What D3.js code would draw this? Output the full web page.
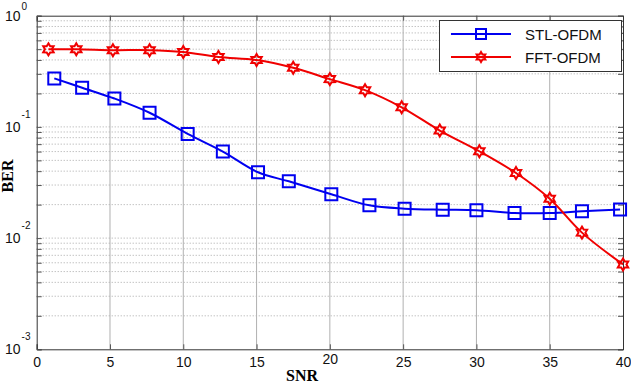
<!DOCTYPE html>
<html>
  <head>
    <meta charset="UTF-8" />
    <script src="https://d3js.org/d3.v7.min.js"></script>
    <style>
      body { margin: 0; background: #fff; }
      text { font-family: "Liberation Sans", Arial, sans-serif; }
    </style>
  </head>
  <body>
    <div id="my_dataviz"></div>
    <script>
      // values
      var stlSnr = [1.2, 3.1, 5.3, 7.7, 10.3, 12.7, 15.1, 17.2, 20.1, 22.7, 25.1, 27.7, 30.0, 32.6, 35.0, 37.2, 39.8];
      var stlBer = [0.273, 0.225, 0.18, 0.134, 0.0865, 0.06, 0.0391, 0.0324, 0.0248, 0.0197, 0.0184, 0.018, 0.0178, 0.0168, 0.0168, 0.0174, 0.0181];
      var fftSnr = [0.8, 2.7, 5.2, 7.7, 10.0, 12.4, 15.0, 17.5, 20.0, 22.4, 24.9, 27.5, 30.2, 32.7, 35.0, 37.2, 40.0];
      var fftBer = [0.498, 0.5, 0.49, 0.49, 0.471, 0.425, 0.399, 0.34, 0.269, 0.214, 0.15, 0.0928, 0.0604, 0.0385, 0.0226, 0.0112, 0.0058];
      var xTicks = [0, 5, 10, 15, 20, 25, 30, 35, 40];
      var yDecades = [0, -1, -2, -3];
      var legendNames = ["STL-OFDM", "FFT-OFDM"];

      var width = 631, height = 383;
      var plotL = 36.7, plotR = 623, plotT = 15.7, plotB = 349.3;

      var svg = d3.select("#my_dataviz")
        .append("svg")
        .attr("width", width)
        .attr("height", height);

      var xScale = d3.scaleLinear().domain([0, 40]).range([plotL, plotR]);
      var yScale = d3.scaleLog().domain([1e-3, 1]).range([plotB, plotT]);

      // minor log values for grid
      var minor = [];
      for (var d = -3; d < 0; d++) {
        for (var m = 2; m <= 9; m++) minor.push(m * Math.pow(10, d));
      }
      var allY = minor.concat([1, 0.1, 0.01, 0.001]);

      // horizontal grid
      svg.append("g").selectAll("line")
        .data(minor.concat([0.1, 0.01]))
        .join("line")
        .attr("x1", plotL).attr("x2", plotR)
        .attr("y1", (v) => yScale(v)).attr("y2", (v) => yScale(v))
        .attr("stroke", "#a8a8a8")
        .attr("stroke-width", 1)
        .attr("stroke-dasharray", "1,2");

      // vertical grid
      svg.append("g").selectAll("line")
        .data(xTicks.slice(1, -1))
        .join("line")
        .attr("x1", (v) => xScale(v)).attr("x2", (v) => xScale(v))
        .attr("y1", plotT).attr("y2", plotB)
        .attr("stroke", "#b0b0b0")
        .attr("stroke-width", 1);

      // axes with inward ticks
      var gx = svg.append("g").attr("transform", "translate(0," + plotB + ")")
        .call(d3.axisBottom(xScale).tickValues(xTicks).tickSize(-5).tickPadding(16).tickFormat(d3.format("d")));
      gx.selectAll("text").attr("font-size", 14).attr("fill", "#111")
        .attr("dy", (v) => (v === 20 ? "-0.1em" : "0.1em"));
      var gxt = svg.append("g").attr("transform", "translate(0," + plotT + ")")
        .call(d3.axisTop(xScale).tickValues(xTicks).tickSize(-5).tickFormat(""));
      var gy = svg.append("g").attr("transform", "translate(" + plotL + ",0)")
        .call(d3.axisLeft(yScale).tickValues(allY).tickSize(-5).tickFormat(""));
      var gyr = svg.append("g").attr("transform", "translate(" + plotR + ",0)")
        .call(d3.axisRight(yScale).tickValues(allY).tickSize(-5).tickFormat(""));

      [gx, gxt, gy, gyr].forEach(function (g) {
        g.select(".domain").attr("stroke", "#333").attr("stroke-width", 1);
        g.selectAll(".tick line").attr("stroke", "#555");
      });

      // y tick labels 10^n
      var yl = svg.append("g").selectAll("text")
        .data(yDecades)
        .join("text")
        .attr("x", 5)
        .attr("y", (e) => yScale(Math.pow(10, e)) + 5)
        .attr("font-size", 14)
        .attr("fill", "#111");
      yl.append("tspan").text("10");
      yl.append("tspan")
        .attr("dx", 1)
        .attr("dy", (e) => (e === 0 ? -11 : -14))
        .attr("font-size", 10)
        .text((e) => e);

      // axis titles
      svg.append("text")
        .attr("x", 302).attr("y", 381)
        .attr("text-anchor", "middle")
        .style("font-family", "'Liberation Serif', 'Times New Roman', serif")
        .attr("font-weight", "bold").attr("font-size", 16)
        .text("SNR");
      svg.append("text")
        .attr("transform", "translate(13,176) rotate(-90)")
        .attr("text-anchor", "middle")
        .style("font-family", "'Liberation Serif', 'Times New Roman', serif")
        .attr("font-weight", "bold").attr("font-size", 16)
        .text("BER");

      // marker shapes
      function hexagram(r) {
        var pts = [];
        for (var i = 0; i < 12; i++) {
          var a = -Math.PI / 2 + i * Math.PI / 6;
          var rr = i % 2 === 0 ? r : r * 0.58;
          pts.push([rr * Math.cos(a), rr * Math.sin(a)]);
        }
        return "M" + pts.map((p) => p.join(",")).join("L") + "Z";
      }
      var squarePath = "M-6,-6H6V6H-6Z";

      var line = d3.line()
        .x((p) => xScale(p[0]))
        .y((p) => yScale(p[1]))
        .curve(d3.curveCatmullRom.alpha(0.5));

      var series = [
        { x: stlSnr, y: stlBer, color: "#0000f0", shape: squarePath },
        { x: fftSnr, y: fftBer, color: "#f00000", shape: hexagram(6) }
      ];

      series.forEach(function (s) {
        var pts = s.x.map((v, i) => [v, s.y[i]]);
        svg.append("path")
          .attr("d", line(pts))
          .attr("fill", "none")
          .attr("stroke", s.color)
          .attr("stroke-width", 2);
        svg.append("g").selectAll("path")
          .data(pts)
          .join("path")
          .attr("transform", (p) => "translate(" + xScale(p[0]) + "," + yScale(p[1]) + ")")
          .attr("d", s.shape)
          .attr("fill", "none")
          .attr("stroke", s.color)
          .attr("stroke-width", 2);
      });

      // legend
      var lg = svg.append("g");
      lg.append("rect")
        .attr("x", 439.5).attr("y", 20.5)
        .attr("width", 182).attr("height", 51)
        .attr("fill", "#fff")
        .attr("stroke", "#333").attr("stroke-width", 1);
      series.forEach(function (s, i) {
        var yy = 34 + i * 23;
        lg.append("line")
          .attr("x1", 451).attr("x2", 511).attr("y1", yy).attr("y2", yy)
          .attr("stroke", s.color).attr("stroke-width", 2);
        lg.append("path")
          .attr("transform", "translate(481," + yy + ")")
          .attr("d", i === 0 ? "M-5,-5H5V5H-5Z" : hexagram(5))
          .attr("fill", "none")
          .attr("stroke", s.color).attr("stroke-width", 2);
        lg.append("text")
          .attr("x", 525).attr("y", yy + 5.5)
          .attr("font-size", 15).attr("fill", "#111")
          .text(legendNames[i]);
      });
    </script>
  </body>
</html>
